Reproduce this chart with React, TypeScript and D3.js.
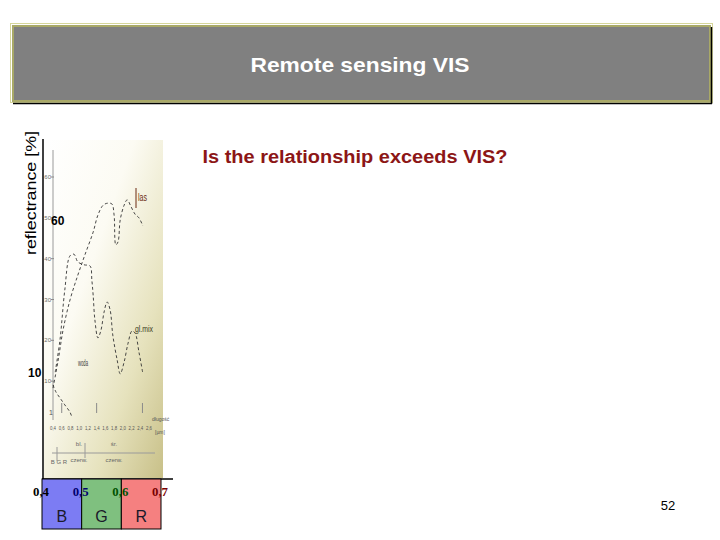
import React from "react";
import * as d3 from "d3";

const titleText = "Remote sensing VIS";
const questionText = "Is the relationship exceeds VIS?";
const yAxisLabel = "reflectrance [%]";
const pageNumber = "52";

// colour bands of the visible spectrum (µm)
const bandNames = ["B", "G", "R"];
const bandStarts = [0.4, 0.5, 0.6];
const bandEnds = [0.5, 0.6, 0.7];
const bandColors = ["#7c7cf3", "#7fc07f", "#f58080"];
const bandTickValues = [0.4, 0.5, 0.6, 0.7];
const bandTickLabels = ["0,4", "0,5", "0,6", "0,7"];
const bandTickColors = ["#000000", "#00006e", "#005200", "#780000"];

// slide-level reflectance annotations
const slideTickLabels = ["60", "10"];

// embedded spectral chart: axes
const innerYTicks = [10, 20, 30, 40, 50, 60];
const innerXTicks = [0.4, 0.6, 0.8, 1.0, 1.2, 1.4, 1.6, 1.8, 2.0, 2.2, 2.4, 2.6];
const innerMajorTicks = [0.6, 1.4, 2.45];

// embedded spectral chart: curves (wavelength µm, reflectance %)
const lasW = [0.4, 0.52, 0.63, 0.79, 0.97, 1.13, 1.32, 1.43, 1.55, 1.66, 1.75, 1.8, 1.84, 1.89, 1.94, 2.03, 2.1, 2.19, 2.28, 2.37, 2.46];
const lasR = [8.3, 15.2, 22.5, 29.9, 36.0, 40.9, 46.5, 50.7, 53.1, 53.6, 53.4, 50.7, 43.4, 44.1, 49.5, 53.1, 54.4, 52.7, 50.9, 50.0, 48.0];

const mixW = [0.45, 0.56, 0.67, 0.79, 0.88, 0.97, 1.11, 1.25, 1.29, 1.32, 1.36, 1.43, 1.5, 1.57, 1.64, 1.71, 1.77, 1.87, 1.94, 2.03, 2.12, 2.21, 2.28, 2.37, 2.46];
const mixR = [12.2, 20.1, 32.3, 40.7, 41.1, 39.2, 38.5, 38.2, 34.8, 31.1, 25.0, 20.6, 22.5, 26.9, 29.4, 27.4, 21.3, 15.2, 11.8, 14.7, 19.3, 22.3, 21.8, 17.1, 11.8];

const wodaW = [0.4, 0.47, 0.56, 0.67, 0.79, 0.84];
const wodaR = [9.1, 7.3, 5.9, 4.2, 2.4, 1.0];

const curveLabels = ["las", "gl.mix", "woda"];

export default function App() {
  // band strip scale
  const xBand = d3.scaleLinear().domain([0.4, 0.7]).range([42, 161]);
  // inner chart scales
  const xIn = d3.scaleLinear().domain([0.4, 2.6]).range([53, 149]);
  const yIn = d3.scaleLinear().domain([0, 60]).range([422, 177]);

  const line = d3
    .line<[number, number]>()
    .x((d) => xIn(d[0]))
    .y((d) => yIn(d[1]))
    .curve(d3.curveCatmullRom.alpha(0.5));

  const zip = (w: number[], r: number[]) => w.map((v, i) => [v, r[i]] as [number, number]);
  const curves = [zip(lasW, lasR), zip(mixW, mixR), zip(wodaW, wodaR)];

  const sans = "'Liberation Sans', Arial, sans-serif";
  const serif = "'Liberation Serif', 'Times New Roman', serif";

  return (
    <svg
      width={720}
      height={540}
      style={{ position: "absolute", left: 0, top: 0, background: "#fff" }}
    >
      <defs>
        <linearGradient id="paper" x1="0" y1="0" x2="1" y2="1">
          <stop offset="0" stopColor="#ffffff" />
          <stop offset="0.38" stopColor="#fcfbf3" />
          <stop offset="0.72" stopColor="#e6e2bd" />
          <stop offset="1" stopColor="#c8c088" />
        </linearGradient>
      </defs>

      {/* title box */}
      <rect x={10.5} y={23.5} width={702} height={79} fill="none" stroke="#d6d69a" strokeWidth={1} />
      <rect x={13} y={26} width={697} height={75} fill="#808080" stroke="#a9a968" strokeWidth={2} />
      <line x1={13} x2={712} y1={103.5} y2={103.5} stroke="#000" strokeWidth={1.5} />
      <line x1={711.5} x2={711.5} y1={27} y2={104} stroke="#000" strokeWidth={1.5} />
      <text
        x={360}
        y={72}
        textAnchor="middle"
        fill="#fff"
        fontFamily={sans}
        fontWeight="bold"
        fontSize={21}
        textLength={219}
        lengthAdjust="spacingAndGlyphs"
      >
        {titleText}
      </text>

      {/* question */}
      <text
        x={355}
        y={163}
        textAnchor="middle"
        fill="#8c1616"
        fontFamily={sans}
        fontWeight="bold"
        fontSize={18}
        textLength={305}
        lengthAdjust="spacingAndGlyphs"
      >
        {questionText}
      </text>

      {/* y axis label */}
      <text
        transform="translate(36,193) rotate(-90)"
        textAnchor="middle"
        fill="#000"
        fontFamily={sans}
        fontSize={15}
        textLength={124}
        lengthAdjust="spacingAndGlyphs"
      >
        {yAxisLabel}
      </text>

      {/* embedded spectral picture */}
      <rect x={44} y={140} width={119} height={338} fill="url(#paper)" />
      <line x1={53} x2={53} y1={150} y2={420} stroke="#9a9a9a" strokeWidth={1} />
      {innerYTicks.map((t) => (
        <g key={t}>
          <text
            x={51}
            y={yIn(t) + 2}
            textAnchor="end"
            fontFamily={sans}
            fontSize={6}
            fill="#6a6a6a"
          >
            {t}
          </text>
          <line x1={51} x2={54} y1={yIn(t)} y2={yIn(t)} stroke="#8a8a8a" />
        </g>
      ))}
      <text x={49} y={415} fontFamily={sans} fontSize={7} fill="#555">1</text>
      {innerMajorTicks.map((t) => (
        <line key={t} x1={xIn(t)} x2={xIn(t)} y1={403} y2={413} stroke="#8a8a8a" />
      ))}
      {innerXTicks.map((t) => (
        <text
          key={t}
          x={xIn(t)}
          y={430}
          textAnchor="middle"
          fontFamily={sans}
          fontSize={6}
          fill="#555"
          textLength={6}
          lengthAdjust="spacingAndGlyphs"
        >
          {d3.format(".1f")(t).replace(".", ",")}
        </text>
      ))}
      <text x={152} y={421} fontFamily={sans} fontSize={5} fill="#555">długość</text>
      <text x={155} y={434} fontFamily={sans} fontSize={5} fill="#555">[µm]</text>
      <text x={79} y={446} textAnchor="middle" fontFamily={sans} fontSize={6} fill="#666">bl.</text>
      <text x={114} y={446} textAnchor="middle" fontFamily={sans} fontSize={6} fill="#666">śr.</text>
      <line x1={52} x2={155} y1={453} y2={453} stroke="#9a9a9a" />
      <line x1={57} x2={57} y1={447} y2={461} stroke="#9a9a9a" />
      <line x1={85} x2={85} y1={443} y2={458} stroke="#9a9a9a" />
      <text x={59} y={464} textAnchor="middle" fontFamily={sans} fontSize={6} fill="#666">B G R</text>
      <text x={79} y={462} textAnchor="middle" fontFamily={sans} fontSize={6} fill="#666">czerw.</text>
      <text x={114} y={462} textAnchor="middle" fontFamily={sans} fontSize={6} fill="#666">czerw.</text>

      {curves.map((c, i) => (
        <path
          key={i}
          d={line(c) || ""}
          fill="none"
          stroke="#333"
          strokeWidth={0.9}
          strokeDasharray="3,2.5"
        />
      ))}
      <line x1={136} x2={136} y1={188} y2={208} stroke="#6a2a12" strokeWidth={1} />
      <text x={138} y={201} fontFamily={sans} fontSize={10} fill="#6a2a12" textLength={9} lengthAdjust="spacingAndGlyphs">
        {curveLabels[0]}
      </text>
      <text x={135} y={332} fontFamily={sans} fontSize={9} fill="#3a3a20" textLength={18} lengthAdjust="spacingAndGlyphs">
        {curveLabels[1]}
      </text>
      <text x={78} y={366} fontFamily={sans} fontSize={9} fill="#3a3a3a" textLength={10} lengthAdjust="spacingAndGlyphs">
        {curveLabels[2]}
      </text>

      {/* slide annotations */}
      <text x={51} y={225} fontFamily={sans} fontWeight="bold" fontSize={12} fill="#000">
        {slideTickLabels[0]}
      </text>
      <text x={28} y={377} fontFamily={sans} fontWeight="bold" fontSize={12} fill="#000">
        {slideTickLabels[1]}
      </text>

      {/* frame lines */}
      <line x1={43} x2={43} y1={139} y2={529} stroke="#000" strokeWidth={1.5} />
      <line x1={42} x2={173} y1={479} y2={479} stroke="#000" strokeWidth={1.5} />

      {/* colour bands */}
      {bandNames.map((b, i) => (
        <g key={b}>
          <rect
            x={xBand(bandStarts[i])}
            y={479}
            width={xBand(bandEnds[i]) - xBand(bandStarts[i])}
            height={50}
            fill={bandColors[i]}
            stroke="#000"
            strokeWidth={1}
          />
          <text
            x={(xBand(bandStarts[i]) + xBand(bandEnds[i])) / 2}
            y={522}
            textAnchor="middle"
            fontFamily={sans}
            fontSize={16}
            fill="#1a1a2a"
          >
            {b}
          </text>
        </g>
      ))}
      {bandTickValues.map((v, i) => (
        <text
          key={v}
          x={xBand(v) - 1}
          y={496}
          textAnchor="middle"
          fontFamily={serif}
          fontWeight="bold"
          fontSize={13}
          fill={bandTickColors[i]}
          textLength={16}
          lengthAdjust="spacingAndGlyphs"
        >
          {bandTickLabels[i]}
        </text>
      ))}

      {/* page number */}
      <text x={668} y={510} textAnchor="middle" fontFamily={sans} fontSize={13} fill="#000">
        {pageNumber}
      </text>
    </svg>
  );
}
